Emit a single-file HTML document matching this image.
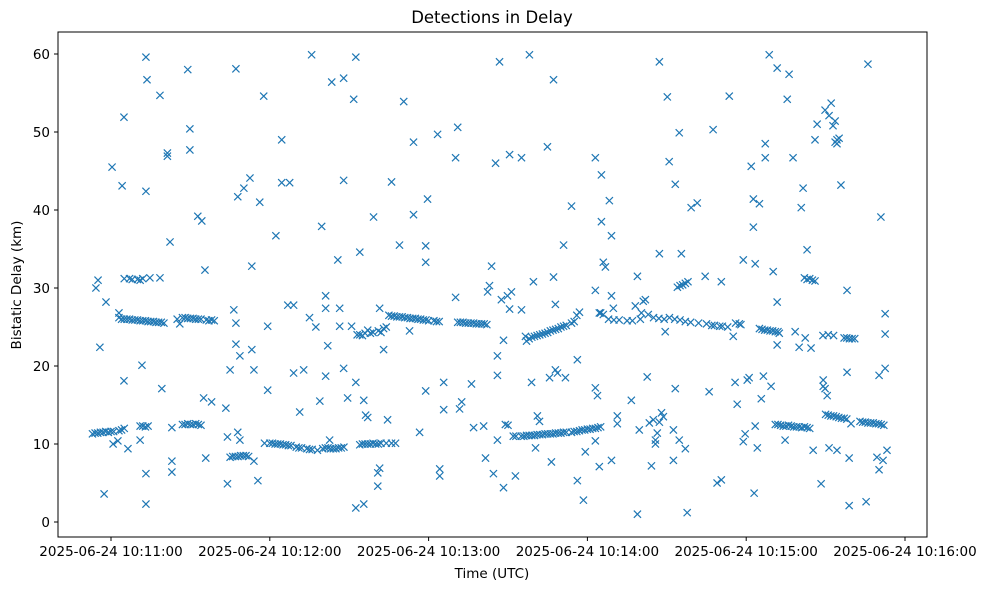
<!DOCTYPE html>
<html><head><meta charset="utf-8"><style>
body{margin:0;background:#fff}
svg{display:block;font-family:"DejaVu Sans","Liberation Sans",sans-serif}
</style></head><body>
<svg id="chart" width="987" height="590" viewBox="0 0 987 590">
<rect x="0" y="0" width="987" height="590" fill="#fff"/>
<text x="492" y="23" text-anchor="middle" font-size="16.5">Detections in Delay</text>
<text x="492" y="578" text-anchor="middle" font-size="13.5">Time (UTC)</text>
<text transform="translate(21,285) rotate(-90)" text-anchor="middle" font-size="13.5">Bistatic Delay (km)</text>
<g id="marks"></g>
<g id="axes"></g>
<rect x="58" y="32" width="869" height="505" fill="none" stroke="#000" stroke-width="1"/>
</svg>
<script>
// seconds after 10:11:00 UTC
const times = [-5.7,-4.9,-4.2,-2.6,-1.9,0.4,0.8,2.6,3.0,4.2,4.9,4.9,6.4,11,11.7,13.2,13.6,13.2,13.2,13.2,14.7,18.5,18.5,19.2,21.3,21.3,22.3,23,23,23,26,29,29.8,29.8,32.8,34.3,35,35.5,35.8,38,43.4,44,44,45,46.4,47.2,47.2,47.2,47.9,48.7,47.9,48.7,50.2,52.5,53.2,53.2,54,54,55.5,56.2,57.7,59.2,59.2,62.3,64.5,64.5,67.5,66.8,69,69,72.8,71.3,75,75.8,77.4,78.9,79.6,81.1,81.1,81.9,81.1,82.6,83.4,85.7,86.4,86.4,87.9,87.9,87.9,89.4,90.9,91.7,92.5,92.5,94,92.5,95.5,95.5,96.2,97,99.2,100.8,100.8,101.5,101.5,103,104.5,106,107.5,109,110.6,112.8,114.3,114.3,116.6,118.9,118.9,119.6,118.9,123.4,124.2,124.2,125.7,125.7,130.2,131,130.2,131.7,132.5,136.2,137,140.8,141.5,142.3,143,143.8,144.5,145.3,146,146,146,146.8,147.5,148.3,148.3,149.8,150.6,150.6,151.3,152.8,155.1,155.1,156.6,158.1,158.9,159.6,160.4,161.1,161.9,164.9,165.7,166.4,167.2,167.2,167.9,167.9,168.7,171,171.7,174,176.2,176.2,178.5,179.2,183,183,183,183,183.8,184.5,184.5,185.3,185.3,186,186.8,188.3,189.1,189.1,189.1,189.8,191.3,191.3,196.6,198.1,198.9,198.9,199.6,200.4,201.1,201.9,202.6,203.4,204.2,204.9,205.7,205.7,206.4,207.2,207.2,207.2,208,208.7,209.4,210.2,210.9,212.5,212.5,213.2,213.2,214.7,214.7,215.5,217,217.7,219.2,221.5,224.5,226,227.5,230.6,233.6,235.1,235.8,236.6,237.4,238.9,238.9,239.6,240.4,229,230.6,243,241.1,241.9,242.7,242.7,243.4,243.4,244.2,245,245.7,246.5,247.2,247.2,248.7,249.4,250.2,251.7,251.7,251.7,252.5,254.7,255.5,256.2,257.7,258.5,260,260.8,261.5,262.3,263,264.5,265.3,266,266.8,268.3,269.1,269.1,269.8,269.8,270.6,271.3,271.3,272.1,272.8,273.6,273.6,274.3,274.3,275.1,274.3,275.8,278.1,278.1,278.9,278.9,279.6,285.3,286,289.4,290.2,290.2,290.9,291.7,292.5,292.5,292.5,293.2,
-7,-6,-5,-4,-3,-2,-1,0,1,3,4,5,11,12,13,14,
27,28,29,30,31,32,33,34,
45,46,47,48,49,50,51,52,
58,60,61,62,63,64,65,66,67,68,70,71,72,74,75,76,78,80,81,82,83,84,85,86,87,88,
94,95,96,97,98,99,100,101,102,104,106,
149,150,152,153,155,156,157,158,159,160,161,162,163,164,165,166,167,168,169,170,171,172,174,175,176,177,178,179,180,181,182,183,184,185,
251,252,253,254,255,256,257,258,259,260,261,262,263,264,
270,271,272,273,274,275,276,277,278,
283,284,285,286,287,288,289,290,291,292,
3,4,5,6,7,8,9,10,11,12,13,14,15,16,17,18,19,20,
5,7,8,10,11,12,
25,27,28,29,30,31,32,33,34,36,37,38,39,
93,94,95,96,97,98,99,101,102,103,104,
105,106,107,108,109,110,111,112,113,114,115,116,117,118,119,120,122,123,124,
131,132,133,134,135,136,137,138,139,140,141,142,
157,158,159,160,161,162,163,164,165,166,167,168,169,170,171,172,174,175,176,177,
185,186,188,190,192,195,197,200,203,205,207,209,211,213,215,217,219,
214,215,216,217,218,
222,225,227,228,230,231,233,236,238,
245,246,247,248,249,250,251,252,
269,271,273,277,278,279,280,281,
262,263,264,265,266];
const delays = [30.0,31.0,22.4,3.6,28.2,45.5,10,10.4,26.8,43.1,51.9,18.1,9.4,10.5,20.1,59.6,56.7,42.4,6.2,2.3,31.3,54.7,31.3,17.1,47.3,46.9,35.9,12.1,7.8,6.4,25.4,58,50.4,47.7,39.2,38.6,15.9,32.3,8.2,15.4,14.6,10.9,4.9,19.5,27.2,25.5,22.8,58.1,41.7,21.3,11.5,10.5,42.8,44.1,32.8,22.1,19.5,7.8,5.3,41,54.6,25.1,16.9,36.7,49,43.5,43.5,27.8,27.8,19.1,19.5,14.1,26.2,59.9,25,15.5,37.9,29,27.4,22.6,18.7,10.5,56.4,33.6,27.4,25.1,56.9,43.8,19.7,15.9,25.1,54.2,59.6,17.9,34.6,1.8,2.3,15.6,13.7,13.4,39.1,6.3,4.6,6.9,27.4,22.1,13.1,43.6,10.1,35.5,53.9,24.5,39.4,48.7,11.5,35.4,33.3,41.4,16.8,49.7,5.9,6.8,14.4,17.9,46.7,50.6,28.8,14.5,15.4,17.7,12.1,12.3,8.2,29.5,30.3,32.8,6.2,46,21.3,10.5,18.8,59,28.5,23.3,4.4,29,27.3,47.1,29.5,5.9,46.7,27.2,23.8,59.9,17.9,30.8,9.5,13.6,12.9,48.1,18.5,7.7,56.7,31.4,27.9,19.5,19.1,35.5,18.5,40.5,20.8,5.3,2.8,9,10.4,46.7,29.7,17.2,16.2,7.1,26.8,44.5,38.5,33.3,32.7,41.2,36.7,29,7.9,27.4,12.6,13.6,15.6,27.7,1,31.5,11.8,26.8,28.3,28.5,18.6,12.7,7.2,13.1,10,10.5,11.4,34.4,12.8,59,14,13.5,24.4,54.5,46.2,11.8,7.9,17.1,43.3,49.9,10.5,34.4,9.4,1.2,40.3,40.9,31.5,16.7,50.3,30.8,54.6,23.8,17.9,15.1,25.4,10.3,33.6,11.3,18.2,5,5.4,3.7,18.5,45.6,41.4,37.8,33.1,12.3,9.5,40.8,15.8,18.7,48.5,46.7,59.9,17.4,32.1,58.2,22.7,28.2,24.2,10.5,54.2,57.4,46.7,24.4,22.4,40.3,42.8,23.6,34.9,22.3,9.2,49,51,4.9,18.2,17.4,17.1,52.8,16.2,9.5,52.1,53.7,50.8,51.4,48.7,49,48.5,49.2,9.2,43.2,29.7,19.2,8.2,2.1,12.6,2.6,58.7,8.3,18.8,6.7,39.1,7.9,26.7,24.1,19.7,9.2,
11.3,11.4,11.4,11.5,11.5,11.6,11.5,11.6,11.6,11.7,11.8,12,12.3,12.3,12.2,12.3,
12.5,12.5,12.6,12.5,12.5,12.6,12.5,12.4,
8.3,8.4,8.4,8.4,8.5,8.5,8.5,8.4,
10.1,10.1,10.1,10,10,10,9.9,9.9,9.8,9.8,9.6,9.5,9.5,9.4,9.3,9.3,9.2,9.4,9.5,9.5,9.4,9.4,9.4,9.5,9.5,9.6,
9.9,10,10,10,10,10.1,10,10,10.1,10.1,10.1,
12.5,12.4,11,11,11,11,11.1,11.1,11.1,11.1,11.2,11.2,11.2,11.3,11.3,11.3,11.3,11.4,11.4,11.4,11.5,11.5,11.5,11.6,11.6,11.7,11.8,11.8,11.9,11.9,12,12,12.1,12.2,
12.5,12.5,12.4,12.3,12.3,12.4,12.3,12.2,12.2,12.2,12.1,12.2,12.1,12,
13.8,13.7,13.6,13.6,13.5,13.4,13.3,13.3,13.2,
12.9,12.8,12.8,12.7,12.7,12.7,12.6,12.6,12.5,12.4,
26.2,26,26,26,26,25.9,25.9,25.9,25.8,25.8,25.8,25.7,25.7,25.7,25.6,25.6,25.6,25.5,
31.2,31.2,31.1,31.1,31,31.2,
26,26.2,26.2,26.1,26.1,26.1,26,26,26,25.9,25.8,25.9,25.8,
24,24,23.9,24.2,24.6,24.2,24.3,24.5,24.3,24.8,25,
26.5,26.4,26.4,26.3,26.3,26.3,26.2,26.2,26.1,26.1,26.1,26,26,25.9,25.9,25.8,25.8,25.7,25.7,
25.6,25.6,25.6,25.5,25.5,25.5,25.5,25.4,25.4,25.4,25.4,25.3,
23.2,23.5,23.7,23.8,23.9,24,24.1,24.2,24.3,24.5,24.6,24.7,24.8,25,25.1,25.2,25.5,25.7,26.5,26.9,
26.8,26.6,26,25.9,25.9,25.8,25.8,26,26.6,26.2,26.1,26,26.2,26,25.9,25.7,25.6,
30.1,30.3,30.4,30.6,30.8,
25.5,25.4,25.2,25.2,25.1,25.1,25,25.5,25.3,
24.8,24.7,24.6,24.6,24.5,24.5,24.4,24.4,
23.9,24,23.9,23.6,23.6,23.5,23.5,23.5,
31.3,31.1,31.2,31,30.9];
const yTicks = [0,10,20,30,40,50,60];
const xTickSecs = [0,60,120,180,240,300];
const xTickLabels = ["2025-06-24 10:11:00","2025-06-24 10:12:00","2025-06-24 10:13:00","2025-06-24 10:14:00","2025-06-24 10:15:00","2025-06-24 10:16:00"];

const NS = "http://www.w3.org/2000/svg";
const xScale = s => 111 + s * (158.8 / 60);
const yScale = v => 522 - v * 7.8;
const marks = document.getElementById('marks');
const axes = document.getElementById('axes');
function mk(tag, attrs, parent){ const e = document.createElementNS(NS, tag); for (const k in attrs) e.setAttribute(k, attrs[k]); parent.appendChild(e); return e; }

for (let i = 0; i < times.length; i++) {
  const cx = xScale(times[i]), cy = yScale(delays[i]), r = 3.6;
  const p = mk('path', {d:`M${cx-r},${cy-r}L${cx+r},${cy+r}M${cx-r},${cy+r}L${cx+r},${cy-r}`, stroke:'#1f77b4', 'stroke-width':'1.2', fill:'none'}, marks);
  
  
}
yTicks.forEach(v => {
  const y = yScale(v);
  const t = mk('line', {x1:54, x2:58, y1:y, y2:y, stroke:'#000'}, axes);
  
  
  const l = mk('text', {x:50, y:y+5, 'text-anchor':'end', 'font-size':'13.5'}, axes);
  l.textContent = v;
  
  
});
xTickSecs.forEach((s, i) => {
  const x = xScale(s);
  const t = mk('line', {x1:x, x2:x, y1:537, y2:541, stroke:'#000'}, axes);
  
  
  const l = mk('text', {x:x, y:556, 'text-anchor':'middle', 'font-size':'13.5'}, axes);
  l.textContent = xTickLabels[i];
  
  
});
</script>
</body></html>
